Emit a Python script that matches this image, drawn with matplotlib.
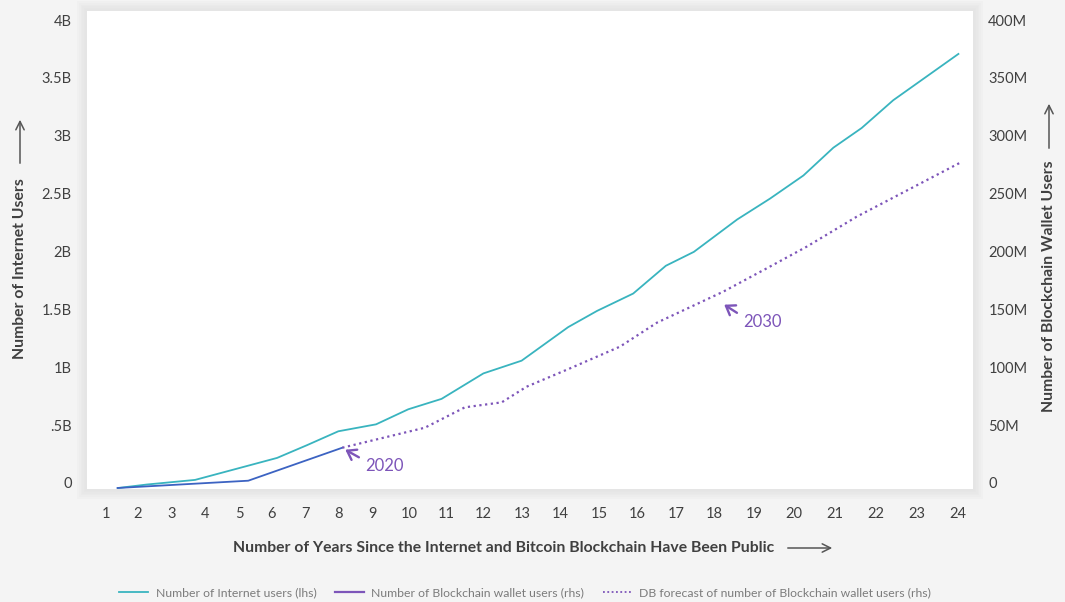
import matplotlib
matplotlib.use("Agg")
import numpy as np
import matplotlib.pyplot as plt
from matplotlib.lines import Line2D
from matplotlib.patches import Rectangle, FancyArrowPatch
import matplotlib.transforms as mtransforms

# ---------------- data ----------------
internet_x = [1.38, 2.26, 3.70, 5.24, 6.15, 7.03, 7.98, 9.11, 9.98, 10.88, 12.01, 12.99,
              14.21, 14.95, 15.90, 16.74, 17.47, 18.58, 19.40, 20.23, 20.96, 21.65, 22.42, 24.01]
internet_users_b = [0.00, 0.03, 0.07, 0.19, 0.26, 0.37, 0.49, 0.55, 0.68, 0.77, 0.99, 1.10,
                    1.39, 1.53, 1.68, 1.92, 2.04, 2.32, 2.50, 2.70, 2.94, 3.11, 3.35, 3.75]

wallet_x = [1.36, 5.28, 8.10]
wallet_users_m = [0.0, 6.3, 34.8]

forecast_x = [8.10, 10.43, 11.51, 12.48, 13.12, 14.26, 15.55, 16.51, 18.23, 19.32, 20.31, 21.53, 24.05]
forecast_users_m = [34.8, 52.1, 69.7, 74.0, 87.5, 103.4, 122.1, 142.8, 169.6, 189.8, 208.5, 234.4, 281.0]

x_ticks = list(range(1, 25))
left_ticks = [0, 0.5, 1, 1.5, 2, 2.5, 3, 3.5, 4]
left_labels = ["0", ".5B", "1B", "1.5B", "2B", "2.5B", "3B", "3.5B", "4B"]
right_ticks = [0, 50, 100, 150, 200, 250, 300, 350, 400]
right_labels = ["0", "50M", "100M", "150M", "200M", "250M", "300M", "350M", "400M"]

legend_labels = ["Number of Internet users (lhs)",
                 "Number of Blockchain wallet users (rhs)",
                 "DB forecast of number of Blockchain wallet users (rhs)"]

# ---------------- style / layout ----------------
FONT = ["Lato", "DejaVu Sans"]
plt.rcParams["font.family"] = FONT
BG = "#f4f4f4"
CYAN = "#39b4bf"
BLUE = "#3c63c2"
PURPLE = "#7d55b9"
TXT = "#404040"

W, H = 1065, 602
fig = plt.figure(figsize=(W / 100, H / 100), dpi=100, facecolor=BG)

ax_l, ax_r, ax_t, ax_b = 87, 973, 11, 489
pos = [ax_l / W, 1 - ax_b / H, (ax_r - ax_l) / W, (ax_b - ax_t) / H]

# soft shadow behind plotting area
for i, a in enumerate([0.014, 0.012, 0.01, 0.008, 0.006, 0.004]):
    g = (6 - i) * 1.6
    fig.patches.append(Rectangle(((ax_l - g) / W, 1 - (ax_b + g) / H),
                                 (ax_r - ax_l + 2 * g) / W, (ax_b - ax_t + 2 * g) / H,
                                 transform=fig.transFigure, facecolor="black",
                                 edgecolor="none", alpha=a, zorder=-10))

ax = fig.add_axes(pos, zorder=1)
ax.set_facecolor("white")
ax2 = ax.twinx()

# x axis: the year ticks are not evenly spaced on the original chart
knot_years = np.array([0, 1, 2, 3, 4, 5, 6, 7, 8, 9, 10, 11, 12, 13, 14, 15, 16, 17, 18, 19, 20,
                       21, 22, 23, 24, 25], dtype=float)
knot_pos = np.array([74, 106, 138, 172, 205, 239, 272, 306, 339, 372, 409, 446, 483, 522, 560,
                     599, 637, 676, 714, 754, 794, 835, 876, 917, 958, 999], dtype=float)


def fwd(v):
    return np.interp(v, knot_years, knot_pos)


def inv(p):
    return np.interp(p, knot_pos, knot_years)


ax.set_xscale("function", functions=(fwd, inv))
ax.set_xlim(inv(ax_l), inv(ax_r))

px_per_b = 115.75
y0_px = 488.0
ylo = -(ax_b - y0_px) / px_per_b
yhi = (y0_px - ax_t) / px_per_b
ax.set_ylim(ylo, yhi)
ax2.set_ylim(ylo * 100, yhi * 100)

ax.plot(internet_x, internet_users_b, color=CYAN, lw=1.3, solid_joinstyle="round")
ax2.plot(wallet_x, wallet_users_m, color=BLUE, lw=1.3, solid_joinstyle="round")
ax2.plot(forecast_x, forecast_users_m, color=PURPLE, lw=1.6, linestyle=(0, (1, 1.6)))

for a in (ax, ax2):
    for s in a.spines.values():
        s.set_visible(False)
    a.tick_params(length=0)

ax.set_xticks(x_ticks)
ax.set_xticklabels([str(t) for t in x_ticks], fontsize=10.5, color=TXT)
ax.xaxis.set_minor_locator(matplotlib.ticker.NullLocator())
ax.tick_params(axis="x", pad=13)
ax.set_yticks(left_ticks)
ax.set_yticklabels(left_labels, fontsize=10.5, color=TXT)
ax.tick_params(axis="y", pad=11)
ax2.set_yticks(right_ticks)
ax2.set_yticklabels(right_labels, fontsize=10.5, color=TXT)
ax2.tick_params(axis="y", pad=11)

shift = mtransforms.ScaledTranslation(0, 5 / 100, fig.dpi_scale_trans)
for lbl in ax.get_yticklabels() + ax2.get_yticklabels():
    lbl.set_transform(lbl.get_transform() + shift)

# annotations
arr = dict(arrowstyle="->,head_length=0.5,head_width=0.35", color=PURPLE, lw=1.7,
           shrinkA=3, shrinkB=0, relpos=(0, 0.8))
ax2.annotate("2020", xy=(wallet_x[-1], wallet_users_m[-1]),
             xycoords=mtransforms.offset_copy(ax2.transData, fig=fig, x=3, y=-2, units="dots"),
             xytext=(14.4, -11.5), textcoords="offset points", color=PURPLE, fontsize=12,
             va="center", ha="left", arrowprops=arr)
ax2.annotate("2030", xy=(forecast_x[8], forecast_users_m[8]),
             xycoords=mtransforms.offset_copy(ax2.transData, fig=fig, x=1, y=-13, units="dots"),
             xytext=(13.7, -12.2), textcoords="offset points", color=PURPLE, fontsize=12,
             va="center", ha="left", arrowprops=arr)

# axis titles (with arrows)
arrow_kw = dict(arrowstyle="->,head_length=6,head_width=3", color="#555555", lw=1.1,
                mutation_scale=1)
fig.text(20 / W, 1 - 269 / H, "Number of Internet Users", rotation=90, ha="center", va="center",
         fontsize=11.3, fontweight="bold", color=TXT)
fig.add_artist(FancyArrowPatch((20 / W, 1 - 166 / H), (20 / W, 1 - 117 / H),
                               transform=fig.transFigure, **arrow_kw))
fig.text(1049 / W, 1 - 286 / H, "Number of Blockchain Wallet Users", rotation=90, ha="center",
         va="center", fontsize=11.3, fontweight="bold", color=TXT)
fig.add_artist(FancyArrowPatch((1049 / W, 1 - 151 / H), (1049 / W, 1 - 101 / H),
                               transform=fig.transFigure, **arrow_kw))
fig.text(503.5 / W, 1 - 548 / H,
         "Number of Years Since the Internet and Bitcoin Blockchain Have Been Public",
         ha="center", va="center", fontsize=11.3, fontweight="bold", color=TXT)
fig.add_artist(FancyArrowPatch((785 / W, 1 - 548 / H), (835 / W, 1 - 548 / H),
                               transform=fig.transFigure, **arrow_kw))

# legend
handles = [Line2D([], [], color=CYAN, lw=1.3),
           Line2D([], [], color=PURPLE, lw=1.6),
           Line2D([], [], color=PURPLE, lw=1.3, linestyle=(0, (1, 1.4)))]
leg = fig.legend(handles, legend_labels, loc="center", bbox_to_anchor=(525 / W, 1 - 593 / H),
                 ncol=3, frameon=False, fontsize=8.8, handlelength=2.4, handletextpad=0.6,
                 columnspacing=1.5, labelcolor="#7c7c7c")

fig.savefig("out.png", dpi=100, facecolor=BG)
